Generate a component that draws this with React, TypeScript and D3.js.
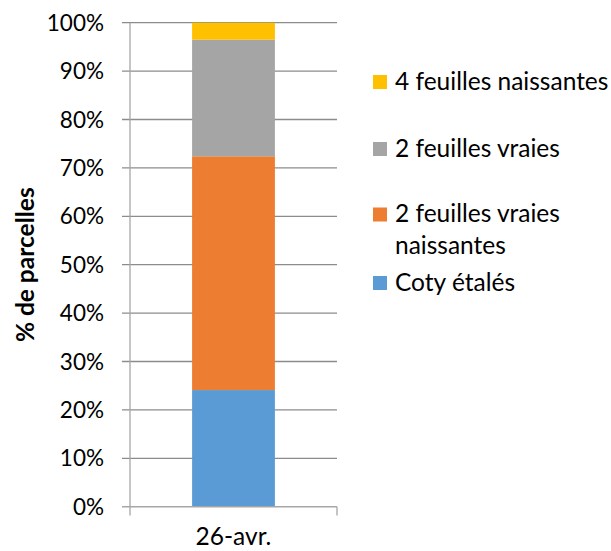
import React from "react";
import * as d3 from "d3";

const categories = ["26-avr."];
const seriesNames = ["Coty étalés", "2 feuilles vraies naissantes", "2 feuilles vraies", "4 feuilles naissantes"];
const seriesValues = [24.1, 48.3, 24.1, 3.5];
const seriesColors = ["#5B9BD5", "#ED7D31", "#A5A5A5", "#FFC000"];
const yTicks = [0, 10, 20, 30, 40, 50, 60, 70, 80, 90, 100];
const legendLines: string[][] = [["4 feuilles naissantes"], ["2 feuilles vraies"], ["2 feuilles vraies", "naissantes"], ["Coty étalés"]];
const legendColorIdx = [3, 2, 1, 0];

const W = 611;
const H = 551;
const FONT = "Lato, 'Open Sans', sans-serif";

export default function App() {
  const y = d3.scaleLinear().domain([0, 100]).range([506.7, 22.7]);
  const x = d3.scaleBand().domain(categories).range([130, 337]).paddingInner(0.6).paddingOuter(0.3);
  const stack = d3.stack<any>().keys(seriesNames)([
    Object.fromEntries(seriesNames.map((n, i) => [n, seriesValues[i]])),
  ]);
  const legendY = [82, 149, 214.5, 283];
  return (
    <div style={{ position: "absolute", left: 0, top: 0 }}>
      <svg width={W} height={H} style={{ display: "block" }} fontFamily={FONT}>
        {yTicks.map((t) => (
          <g key={t}>
            <line x1={122} x2={337} y1={y(t)} y2={y(t)} stroke="#8c8c8c" strokeWidth={1.3} />
            <text x={104} y={y(t)} dy="0.36em" textAnchor="end" fontSize={22.5} fill="#000">
              {t}%
            </text>
          </g>
        ))}
        {stack.map((s, i) => (
          <rect
            key={i}
            x={x(categories[0])}
            width={x.bandwidth()}
            y={y(s[0][1])}
            height={y(s[0][0]) - y(s[0][1])}
            fill={seriesColors[i]}
          />
        ))}
        <line x1={130} x2={130} y1={22.7} y2={515.5} stroke="#a6a6a6" strokeWidth={1.3} />
        <line x1={337} x2={337} y1={506.7} y2={515.5} stroke="#a6a6a6" strokeWidth={1.3} />
        <line x1={122} x2={337} y1={506.7} y2={506.7} stroke="#a6a6a6" strokeWidth={1.3} />
        {categories.map((c) => (
          <text key={c} x={(x(c) as number) + x.bandwidth() / 2} y={545} textAnchor="middle" fontSize={24.5} fill="#000">
            {c}
          </text>
        ))}
        <text
          transform={`translate(34,${(y(0) + y(100)) / 2}) rotate(-90)`}
          textAnchor="middle"
          fontSize={24.5}
          fontWeight="bold"
          fill="#000"
        >
          % de parcelles
        </text>
        {legendLines.map((lines, i) => (
          <g key={i}>
            <rect x={373} y={legendY[i] - 7} width={14} height={14} fill={seriesColors[legendColorIdx[i]]} />
            {lines.map((l, j) => (
              <text key={j} x={395} y={legendY[i] + 7.5 + j * 32} fontSize={24.5} fill="#000">
                {l}
              </text>
            ))}
          </g>
        ))}
      </svg>
    </div>
  );
}
